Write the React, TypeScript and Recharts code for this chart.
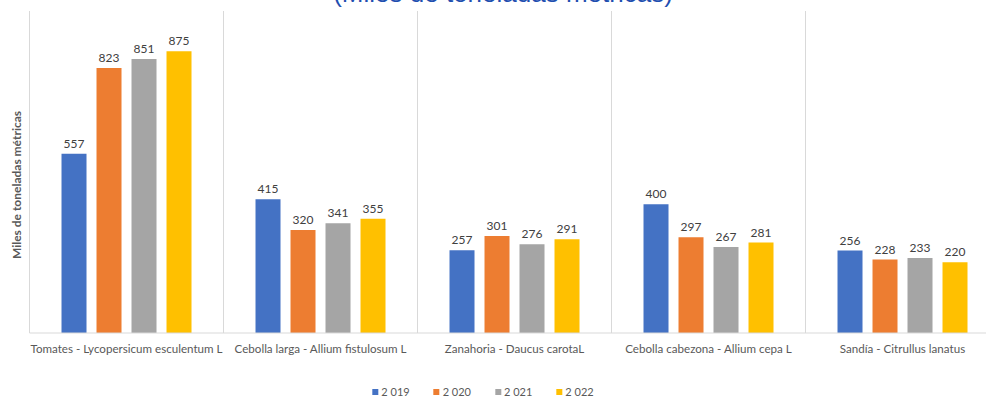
import React from "react"
import { BarChart, Bar, XAxis, YAxis, CartesianGrid, LabelList } from "recharts"

const categories = [
  "Tomates - Lycopersicum esculentum L",
  "Cebolla larga - Allium fistulosum L",
  "Zanahoria - Daucus carotaL",
  "Cebolla cabezona - Allium cepa L",
  "Sandía - Citrullus lanatus",
]
const v2019 = [557, 415, 257, 400, 256]
const v2020 = [823, 320, 301, 297, 228]
const v2021 = [851, 341, 276, 267, 233]
const v2022 = [875, 355, 291, 281, 220]

const series = [
  { key: "y2019", name: "2 019", color: "#4472C4" },
  { key: "y2020", name: "2 020", color: "#ED7D31" },
  { key: "y2021", name: "2 021", color: "#A5A5A5" },
  { key: "y2022", name: "2 022", color: "#FFC000" },
]

const data = categories.map((c, i) => ({
  name: c,
  y2019: v2019[i],
  y2020: v2020[i],
  y2021: v2021[i],
  y2022: v2022[i],
}))

const font = "Lato, 'Open Sans', sans-serif"

export default function App() {
  return (
    <div
      style={{
        position: "fixed",
        left: 0,
        top: 0,
        width: 986,
        height: 398,
        overflow: "hidden",
        background: "#fff",
        fontFamily: font,
      }}
    >
      <div
        style={{
          position: "absolute",
          left: 503,
          top: -22,
          transform: "translateX(-50%)",
          whiteSpace: "nowrap",
          fontFamily: "'Liberation Sans', Arial, sans-serif",
          fontSize: 26,
          lineHeight: "30px",
          color: "#1F4FB0",
        }}
      >
        (Miles de toneladas métricas)
      </div>
      <div
        style={{
          position: "absolute",
          left: 16,
          top: 185,
          transform: "translate(-50%, -50%) rotate(-90deg)",
          whiteSpace: "nowrap",
          fontSize: 12,
          fontWeight: 700,
          color: "#595959",
        }}
      >
        Miles de toneladas métricas
      </div>
      <BarChart
        width={1000}
        height={398}
        data={data}
        margin={{ top: 11, right: 0.5, left: 29.5, bottom: 35 }}
        barCategoryGap="16.5%"
        barGap={10}
      >
        <CartesianGrid
          horizontal={false}
          stroke="#D9D9D9"
          verticalCoordinatesGenerator={({ offset }: any) =>
            categories.map((_, i) => offset.left + (i * offset.width) / categories.length)
          }
        />
        <XAxis
          dataKey="name"
          height={30}
          axisLine={{ stroke: "#D9D9D9" }}
          tickLine={false}
          interval={0}
          tick={{ fontSize: 11.6, fill: "#595959", fontFamily: font }}
          tickMargin={6}
        />
        <YAxis hide domain={[0, 1000]} />
        {series.map((s) => (
          <Bar key={s.key} dataKey={s.key} name={s.name} fill={s.color} isAnimationActive={false}>
            <LabelList
              dataKey={s.key}
              position="top"
              offset={6}
              style={{ fontSize: 12, fill: "#404040", fontFamily: font }}
            />
          </Bar>
        ))}
      </BarChart>
      <div
        style={{
          position: "absolute",
          left: 483,
          top: 385,
          transform: "translateX(-50%)",
          display: "flex",
          gap: 24,
          fontSize: 11,
          color: "#595959",
          whiteSpace: "nowrap",
        }}
      >
        {series.map((s) => (
          <div key={s.key} style={{ display: "flex", alignItems: "center", gap: 3 }}>
            <span style={{ width: 6, height: 6, background: s.color, display: "inline-block" }} />
            <span>{s.name}</span>
          </div>
        ))}
      </div>
    </div>
  )
}
